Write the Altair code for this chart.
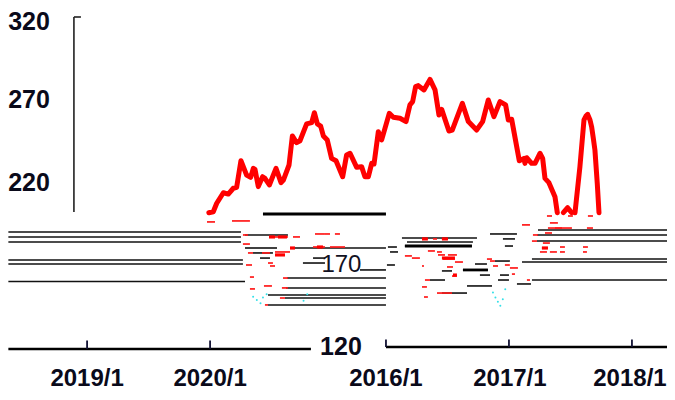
import altair as alt
import pandas as pd

# red series, three visible pieces (x in years on the chart's scale, y in index points)
s1_x = [2014.560,2014.596,2014.624,2014.678,2014.718,2014.759,2014.786,2014.821,2014.867,2014.900,2014.922,2014.935,2014.962,2014.997,2015.016,2015.052,2015.106,2015.147,2015.166,2015.212,2015.239,2015.274,2015.301,2015.355,2015.396,2015.418,2015.442,2015.469,2015.491,2015.523,2015.558,2015.594,2015.648,2015.680,2015.708,2015.762,2015.802,2015.829,2015.857,2015.884,2015.903,2015.938,2015.965,2016.027,2016.060,2016.114,2016.163,2016.195,2016.217,2016.241,2016.263,2016.309,2016.358,2016.399,2016.431,2016.453,2016.512,2016.539,2016.621,2016.670,2016.737,2016.786,2016.832,2016.878,2016.927,2016.973,2016.995,2017.022,2017.084,2017.122,2017.130,2017.144,2017.184,2017.212,2017.252,2017.274,2017.293,2017.325,2017.374,2017.393]
s1_y = [201.4,202.0,207.1,213.5,212.7,216.2,216.8,232.9,224.2,222.8,228.3,227.7,217.2,223.2,222.2,218.2,228.3,219.6,221.2,230.3,247.9,243.8,245.0,255.2,256.0,262.0,255.2,253.9,247.9,245.4,234.3,232.9,223.2,236.4,237.4,228.9,229.3,223.2,223.2,231.3,230.9,250.5,245.5,261.6,259.2,258.6,256.6,266.7,268.7,277.8,278.4,275.8,282.2,275.8,260.6,264.0,250.9,251.5,267.7,256.6,251.5,256.6,269.7,259.6,268.7,266.7,257.6,258.0,232.9,234.3,231.3,234.7,231.3,231.3,237.4,234.3,222.2,219.6,211.1,201.4]
s2_x = [2017.442,2017.477,2017.510]
s2_y = [201.4,204.4,201.4]
s3_x = [2017.537,2017.577,2017.610,2017.626,2017.640,2017.659,2017.672,2017.686,2017.699,2017.718,2017.732]
s3_y = [201.4,229.3,257.6,260.0,261.0,257.6,253.5,246.5,239.4,219.2,201.4]

# black fragments: start, end, level
blk_a = [2012.93,2012.93,2012.93,2012.93,2012.93,2012.93,2014.854,2014.854,2014.919,2015.244,2014.976,2015.407,2015.325,2015.789,2015.195,2015.187,2015.041,2015.179,2015.041,2016.130,2016.171,2016.154,2016.016,2016.033,2016.008,2016.846,2016.951,2016.967,2016.886,2016.724,2016.626,2016.455,2016.764,2016.927,2016.358,2016.911,2016.659,2017.065,2016.455,2017.236,2017.228,2017.228,2017.187,2017.106,2017.187]
blk_b = [2014.821,2014.821,2014.821,2014.837,2014.837,2014.854,2015.203,2015.114,2015.081,2016.0,2015.057,2015.504,2015.504,2016.0,2016.0,2016.0,2016.0,2016.0,2016.0,2016.740,2016.707,2016.699,2016.089,2016.098,2016.073,2017.065,2017.049,2017.033,2017.008,2016.821,2016.829,2016.537,2016.846,2017.0,2016.480,2017.0,2016.862,2017.179,2016.659,2018.285,2018.285,2018.285,2018.285,2018.285,2018.285]
blk_v = [189.7,186.7,183.6,172.7,170.3,159.7,187.9,180.0,177.0,180.0,173.9,173.9,170.9,166.7,161.8,155.8,151.5,149.7,145.5,186.1,183.6,181.2,180.6,177.6,169.7,188.5,185.5,181.2,172.1,170.3,166.7,166.1,163.6,163.6,160.6,160.6,157.0,158.2,152.7,190.9,187.9,184.2,173.3,171.5,160.6]

# heavy fragment above the gap
hvy_a = [2015.0,2016.154,2016.626]
hvy_b = [2016.0,2016.699,2016.829]
hvy_v = [200.6,181.2,166.7]

# red specks: start, end, level
red_a = [2014.545,2014.748,2014.837,2015.057,2015.244,2015.423,2015.504,2015.585,2014.837,2014.878,2014.992,2015.098,2015.122,2015.407,2015.463,2015.545,2014.862,2015.041,2015.057,2014.894,2015.008,2014.894,2015.163,2015.154,2015.138,2015.016,2016.293,2016.382,2016.455,2016.341,2016.415,2016.423,2016.504,2016.463,2016.561,2016.154,2016.211,2016.293,2016.496,2016.537,2016.317,2016.293,2016.415,2016.309,2016.821,2016.846,2016.870,2016.967,2017.008,2017.024,2017.146,2017.106,2017.317,2017.374,2017.634,2017.309,2017.480,2017.642,2017.333,2017.293,2017.195,2017.187,2017.276,2017.268,2017.252,2017.333,2017.415,2017.602,2017.415,2017.602]
red_b = [2014.610,2014.894,2014.878,2015.203,2015.301,2015.504,2015.545,2015.626,2014.894,2014.919,2015.057,2015.220,2015.179,2015.463,2015.504,2015.667,2014.911,2015.081,2015.098,2014.927,2015.073,2014.935,2015.203,2015.203,2015.179,2015.041,2016.333,2016.415,2016.504,2016.398,2016.455,2016.480,2016.577,2016.561,2016.626,2016.211,2016.276,2016.309,2016.545,2016.577,2016.358,2016.333,2016.537,2016.341,2016.862,2016.886,2016.911,2017.008,2017.073,2017.049,2017.171,2017.171,2017.431,2017.512,2017.683,2017.350,2017.520,2017.683,2017.398,2017.350,2017.236,2017.228,2017.333,2017.317,2017.309,2017.390,2017.455,2017.634,2017.455,2017.642]
red_v = [195.8,196.4,187.9,186.7,186.7,188.5,188.5,188.5,182.4,177.0,177.0,177.6,175.8,180.6,180.6,180.6,169.7,170.9,169.1,162.4,157.0,155.2,161.8,155.8,149.7,145.5,185.5,185.5,185.5,178.2,177.6,175.8,175.8,173.3,171.5,175.2,173.9,169.1,168.5,163.0,160.6,156.4,152.7,150.3,173.3,172.1,169.1,169.7,167.9,164.2,160.6,194.0,192.1,192.1,192.1,199.4,199.4,199.4,195.2,189.1,187.9,184.2,183.0,180.0,177.6,177.6,177.6,177.6,180.6,180.6]
red_w = 1.7

# thicker red blots
blot_a = [2015.049,2015.122,2015.098,2015.439,2015.220,2016.455,2016.545,2016.293,2016.455,2017.268]
blot_b = [2015.098,2015.195,2015.179,2015.488,2015.260,2016.561,2016.577,2016.341,2016.504,2017.317]
blot_v = [186.7,186.7,175.8,180.6,180.0,173.9,163.6,185.5,185.5,180.0]

# cyan specks
cy_x = [2014.92,2014.95,2014.98,2015.0,2015.03,2015.33,2015.36,2016.87,2016.89,2016.91,2016.93,2016.95,2016.97]
cy_v = [150.5,148.5,146.5,150.0,152.0,148.0,152.0,153.0,150.0,147.5,145.0,149.0,155.0]

# axes
yaxis_x = [2013.463]
yaxis_lo = [201.8]
yaxis_hi = [320]
ytick_x2 = [2013.52]
base_a = [2012.93, 2016.0]
base_b = [2015.39, 2018.285]
base_v = [118.8, 120.0]
tick_pos = [2013.57, 2014.57, 2016.0, 2017.0, 2018.0]
tick_lo = [118.8, 118.8, 120.0, 120.0, 120.0]
tick_hi = [123.9, 123.9, 124.5, 124.5, 124.5]

# labels
xlabels = ["2019/1", "2020/1", "2016/1", "2017/1", "2018/1"]
xlabel_pos = [2013.57, 2014.57, 2016.0, 2017.008, 2017.984]
xlabel_v = 100.6
ylabels = ["320", "270", "220", "120"]
ylabel_x = [2013.098, 2013.098, 2013.098, 2015.634]
ylabel_v = [317.0, 269.7, 219.4, 120.0]
mid_label = ["170"]
mid_x = [2015.638]
mid_v = [169.7]

X = alt.Scale(domain=[2012.927, 2018.285], nice=False, zero=False)
Y = alt.Scale(domain=[92.73, 325.45], nice=False, zero=False)
x_ = lambda f: alt.X(f, type="quantitative", scale=X, axis=None)
y_ = lambda f: alt.Y(f, type="quantitative", scale=Y, axis=None)

series = pd.DataFrame(
    [dict(t=a, v=b, s=1) for a, b in zip(s1_x, s1_y)]
    + [dict(t=a, v=b, s=2) for a, b in zip(s2_x, s2_y)]
    + [dict(t=a, v=b, s=3) for a, b in zip(s3_x, s3_y)]
)
blk = pd.DataFrame(dict(a=blk_a, b=blk_b, v=blk_v))
hvy = pd.DataFrame(dict(a=hvy_a, b=hvy_b, v=hvy_v))
red = pd.DataFrame(dict(a=red_a, b=red_b, v=red_v))
blot = pd.DataFrame(dict(a=blot_a, b=blot_b, v=blot_v))
base = pd.DataFrame(dict(a=base_a, b=base_b, v=base_v))
ticks = pd.DataFrame(dict(t=tick_pos, lo=tick_lo, hi=tick_hi))
yax = pd.DataFrame(dict(t=yaxis_x, lo=yaxis_lo, hi=yaxis_hi, t2=ytick_x2))
xl = pd.DataFrame(dict(t=xlabel_pos, lab=xlabels, v=xlabel_v))
yl = pd.DataFrame(dict(t=ylabel_x, lab=ylabels, v=ylabel_v))
ml = pd.DataFrame(dict(t=mid_x, lab=mid_label, v=mid_v))
cy = pd.DataFrame(dict(t=cy_x, v=cy_v))


def hseg(df, color, w):
    return alt.Chart(df).mark_rule(color=color, strokeWidth=w).encode(
        x=x_("a"), x2="b", y=y_("v"))


layers = [
    hseg(blk, "#111111", 1.6),
    hseg(hvy, "#000000", 2.8),
    hseg(red, "#ff1a1a", red_w),
    hseg(blot, "#ff0000", 3.2),
    alt.Chart(cy).mark_point(color="#33e0e8", filled=True, size=4, opacity=1).encode(x=x_("t"), y=y_("v")),
    alt.Chart(series).mark_line(color="#ff0000", strokeWidth=5, strokeJoin="round", strokeCap="round", interpolate="linear")
    .encode(x=x_("t"), y=y_("v"), detail="s:N", order="t:Q"),
    alt.Chart(yax).mark_rule(color="#222222", strokeWidth=1.6).encode(x=x_("t"), y=y_("lo"), y2="hi"),
    alt.Chart(yax).mark_rule(color="#222222", strokeWidth=1.6).encode(x=x_("t"), x2="t2", y=y_("hi")),
    hseg(base, "#000000", 2.4),
    alt.Chart(ticks).mark_rule(color="#111133", strokeWidth=1.8).encode(x=x_("t"), y=y_("lo"), y2="hi"),
    alt.Chart(xl).mark_text(font="Liberation Sans", fontWeight="bold", fontSize=24, color="#0a0a1a", baseline="middle", align="center")
    .encode(x=x_("t"), y=y_("v"), text="lab"),
    alt.Chart(yl).mark_text(font="Liberation Sans", fontWeight="bold", fontSize=25, color="#0a0a1a", baseline="middle", align="center")
    .encode(x=x_("t"), y=y_("v"), text="lab"),
    alt.Chart(ml).mark_text(font="Liberation Sans", fontSize=24, color="#111122", baseline="middle", align="center")
    .encode(x=x_("t"), y=y_("v"), text="lab"),
]

chart = alt.layer(*layers).properties(
    width=659, height=384, padding=0, background="white", autosize=alt.AutoSizeParams(type="none"),
).configure_view(strokeWidth=0)

chart.save("out.html", embed_options={"renderer": "svg", "actions": False})
